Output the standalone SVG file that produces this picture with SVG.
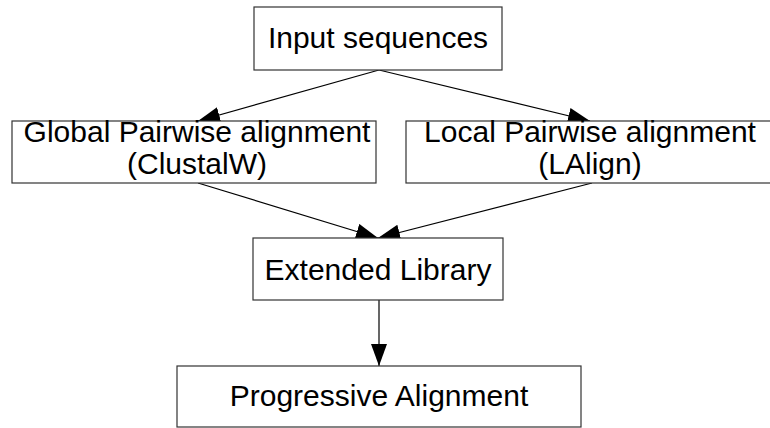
<svg xmlns="http://www.w3.org/2000/svg" width="770" height="428" viewBox="0 0 770 428">
<defs>
<marker id="ah" viewBox="0 0 22 16" refX="22" refY="8" markerWidth="22" markerHeight="16" markerUnits="userSpaceOnUse" orient="auto">
<path d="M0,0 L22,8 L0,16 Z" fill="#000"/>
</marker>
<style>
.box{fill:#fff;stroke:#333;stroke-width:1.2}
.t{font-family:"Liberation Sans",Arial,sans-serif;font-size:30px;fill:#000;text-anchor:middle}
.c{stroke:#000;stroke-width:1.2;fill:none;marker-end:url(#ah)}
</style>
</defs>
<rect width="770" height="428" fill="#fff"/>
<g id="connectors">
<path class="c" d="M379,70 L198,121"/>
<path class="c" d="M379,70 L590,121"/>
<path class="c" d="M198,183 L378,238"/>
<path class="c" d="M592,183 L378,238"/>
<path class="c" d="M379,300 L379,366"/>
</g>
<g id="input">
<rect class="box" x="254" y="7" width="248" height="63"/>
<text class="t" x="378" y="48">Input sequences</text>
</g>
<g id="global">
<rect class="box" x="12" y="121" width="364" height="62"/>
<text class="t" x="197" y="142">Global Pairwise alignment</text>
<text class="t" x="197" y="174">(ClustalW)</text>
</g>
<g id="local">
<rect class="box" x="406" y="121" width="370" height="62"/>
<text class="t" x="590" y="142">Local Pairwise alignment</text>
<text class="t" x="590" y="174">(LAlign)</text>
</g>
<g id="library">
<rect class="box" x="253" y="238" width="250" height="62"/>
<text class="t" x="378" y="280">Extended Library</text>
</g>
<g id="progressive">
<rect class="box" x="177" y="366" width="404" height="61"/>
<text class="t" x="379" y="406">Progressive Alignment</text>
</g>
</svg>
